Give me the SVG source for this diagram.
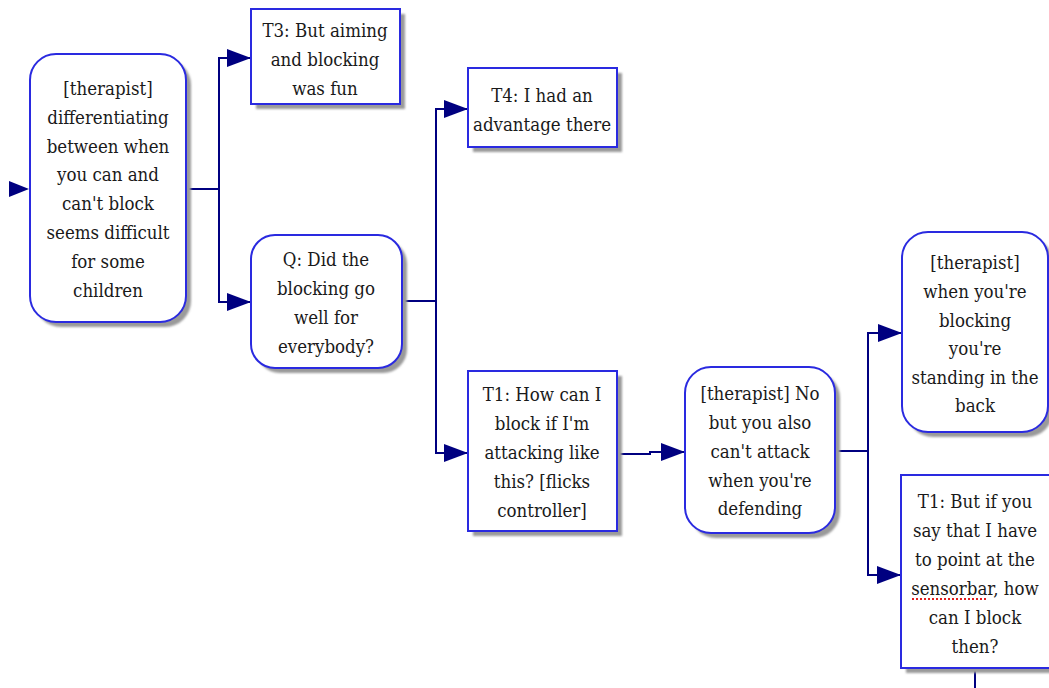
<svg xmlns="http://www.w3.org/2000/svg" width="1049" height="688" viewBox="0 0 1049 688">
  <style>
    .box { fill: #ffffff; stroke: #2a2ae0; stroke-width: 2; }
    .shadow { fill: #9a9a9a; filter: url(#soft); }
    .label { font-family: 'DejaVu Serif', serif; font-stretch: condensed; font-size: 18.5px; fill: #1a1a1a; text-anchor: middle; }
    .wire { fill: none; stroke: #000080; stroke-width: 2; }
    .head { fill: #000080; }
  </style>
  <defs>
    <filter id="soft" x="-10%" y="-10%" width="120%" height="120%">
      <feGaussianBlur stdDeviation="1.2"/>
    </filter>
    <marker id="arrow" markerUnits="userSpaceOnUse" markerWidth="24" markerHeight="18" refX="24" refY="9" orient="auto">
      <path class="head" d="M0,0 L24,9 L0,18 Z"/>
    </marker>
  </defs>

  <rect width="1049" height="688" fill="#ffffff"/>

  <!-- connectors -->
  <g id="connectors">
    <path class="head" d="M9,181 L29,189 L9,197 Z"/>
    <path class="wire" d="M186,189 H219"/>
    <path class="wire" d="M219,189 V58 H251" marker-end="url(#arrow)"/>
    <path class="wire" d="M219,189 V302 H251" marker-end="url(#arrow)"/>
    <path class="wire" d="M402,301 H436"/>
    <path class="wire" d="M436,301 V109 H468" marker-end="url(#arrow)"/>
    <path class="wire" d="M436,301 V453 H468" marker-end="url(#arrow)"/>
    <path class="wire" d="M617,454 H650 V452 H685" marker-end="url(#arrow)"/>
    <path class="wire" d="M835,451 H868"/>
    <path class="wire" d="M868,451 V333 H902" marker-end="url(#arrow)"/>
    <path class="wire" d="M868,451 V575 H901" marker-end="url(#arrow)"/>
    <path class="wire" d="M975,668 V688"/>
  </g>

  <!-- therapist: differentiating -->
  <g id="node-differentiating">
    <rect class="shadow" x="35" y="59" width="156" height="268" rx="26"/>
    <rect class="box" x="30" y="54" width="156" height="268" rx="26"/>
    <text class="label" x="108" y="95">[therapist]</text>
    <text class="label" x="108" y="124">differentiating</text>
    <text class="label" x="108" y="153">between when</text>
    <text class="label" x="108" y="181">you can and</text>
    <text class="label" x="108" y="210">can't block</text>
    <text class="label" x="108" y="239">seems difficult</text>
    <text class="label" x="108" y="268">for some</text>
    <text class="label" x="108" y="297">children</text>
  </g>

  <!-- T3 -->
  <g id="node-t3-aiming">
    <rect class="shadow" x="256" y="14" width="149" height="95"/>
    <rect class="box" x="251" y="9" width="149" height="95"/>
    <text class="label" x="325" y="37">T3: But aiming</text>
    <text class="label" x="325" y="66">and blocking</text>
    <text class="label" x="325" y="95">was fun</text>
  </g>

  <!-- Q -->
  <g id="node-question">
    <rect class="shadow" x="256" y="240" width="151" height="133" rx="24"/>
    <rect class="box" x="251" y="235" width="151" height="133" rx="24"/>
    <text class="label" x="326" y="266">Q: Did the</text>
    <text class="label" x="326" y="295">blocking go</text>
    <text class="label" x="326" y="324">well for</text>
    <text class="label" x="326" y="353">everybody?</text>
  </g>

  <!-- T4 -->
  <g id="node-t4-advantage">
    <rect class="shadow" x="473" y="73" width="149" height="79"/>
    <rect class="box" x="468" y="68" width="149" height="79"/>
    <text class="label" x="542" y="102">T4: I had an</text>
    <text class="label" x="542" y="131">advantage there</text>
  </g>

  <!-- T1 attacking -->
  <g id="node-t1-attacking">
    <rect class="shadow" x="473" y="376" width="149" height="160"/>
    <rect class="box" x="468" y="371" width="149" height="160"/>
    <text class="label" x="542" y="401">T1: How can I</text>
    <text class="label" x="542" y="430">block if I'm</text>
    <text class="label" x="542" y="459">attacking like</text>
    <text class="label" x="542" y="488">this? [flicks</text>
    <text class="label" x="542" y="517">controller]</text>
  </g>

  <!-- therapist: no -->
  <g id="node-therapist-no">
    <rect class="shadow" x="690" y="372" width="150" height="166" rx="26"/>
    <rect class="box" x="685" y="367" width="150" height="166" rx="26"/>
    <text class="label" x="760" y="400">[therapist] No</text>
    <text class="label" x="760" y="429">but you also</text>
    <text class="label" x="760" y="458">can't attack</text>
    <text class="label" x="760" y="487">when you're</text>
    <text class="label" x="760" y="515">defending</text>
  </g>

  <!-- therapist: standing in the back -->
  <g id="node-therapist-back">
    <rect class="shadow" x="907" y="237" width="146" height="200" rx="26"/>
    <rect class="box" x="902" y="232" width="146" height="200" rx="26"/>
    <text class="label" x="975" y="269">[therapist]</text>
    <text class="label" x="975" y="298">when you're</text>
    <text class="label" x="975" y="327">blocking</text>
    <text class="label" x="975" y="355">you're</text>
    <text class="label" x="975" y="384">standing in the</text>
    <text class="label" x="975" y="412">back</text>
  </g>

  <!-- T1 sensorbar -->
  <g id="node-t1-sensorbar">
    <rect class="shadow" x="906" y="480" width="150" height="193"/>
    <rect class="box" x="901" y="475" width="150" height="193"/>
    <text class="label" x="975" y="508">T1: But if you</text>
    <text class="label" x="975" y="537">say that I have</text>
    <text class="label" x="975" y="566">to point at the</text>
    <text class="label" x="975" y="595">sensorbar, how</text>
    <text class="label" x="975" y="624">can I block</text>
    <text class="label" x="975" y="653">then?</text>
    <path d="M912,599 H987" fill="none" stroke="#e02020" stroke-width="2" stroke-dasharray="2 2"/>
  </g>
</svg>
